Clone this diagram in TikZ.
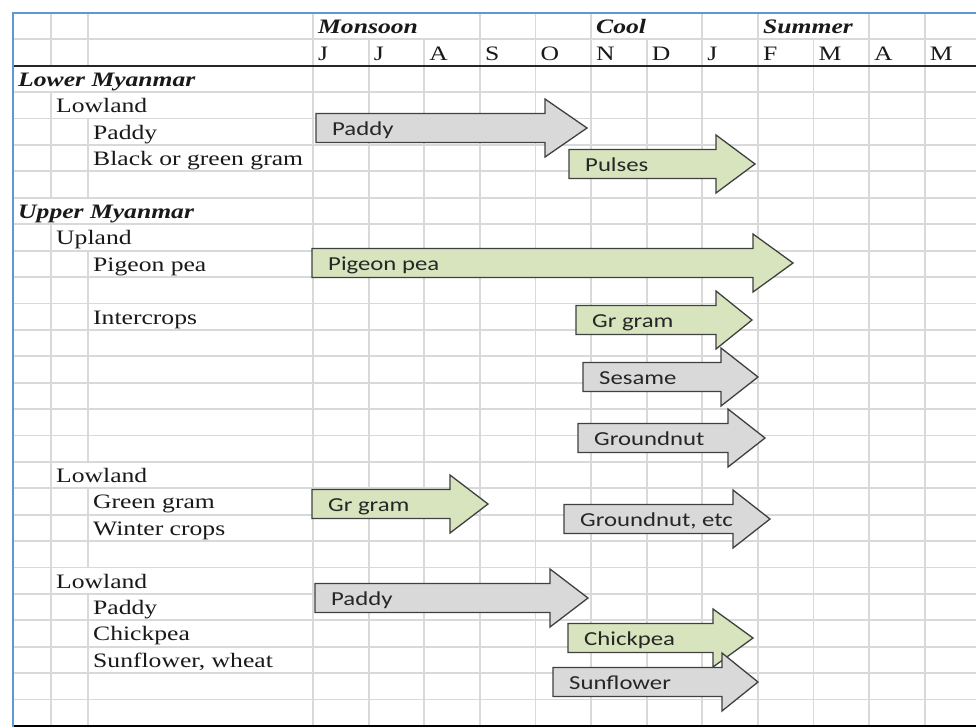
\documentclass[tikz,border=0pt]{standalone}
\usepackage{fontspec}
\setmainfont{Liberation Serif}[FakeStretch=1.25]
\newfontfamily\arrowfont{Carlito}[FakeStretch=1.25]
\usepackage{xcolor}
\usepackage{tikz}
\definecolor{gridgray}{HTML}{D9D9D9}
\definecolor{frameblue}{HTML}{5B9BD5}
\definecolor{cropgray}{HTML}{D9D9D9}
\definecolor{cropgreen}{HTML}{D7E4BD}
\definecolor{edge}{HTML}{404040}

\tikzset{
  gridline/.style={draw=gridgray, line width=1.8pt},
  rowlabel/.style={anchor=base west, inner sep=0pt, text=black!90, font=\fontsize{20.5}{24}\selectfont},
  season/.style={rowlabel, font=\fontsize{20.5}{24}\selectfont\bfseries\itshape},
  croplabel/.style={anchor=base west, inner sep=0pt, text=black!85, font=\arrowfont\fontsize{19.8}{22}\selectfont},
  arrowline/.style={draw=edge, line width=1.3pt, line join=miter},
}

\newcommand{\croparrow}[7]{%
  \draw[arrowline, fill=#2] (#3,#6-14.5) -- (#4,#6-14.5) -- (#4,#6-29) -- (#5,#6)
    -- (#4,#6+29) -- (#4,#6+14.5) -- (#3,#6+14.5) -- cycle;
  \node[croplabel] (#1) at (#3+16,#6+7.5) {#7};
}

\begin{document}
\begin{tikzpicture}[x=1pt, y=-1pt]
  \useasboundingbox (0,0) rectangle (976,727);
  \fill[white] (0,0) rectangle (976,727);

  \foreach \r in {1,...,26}
    \draw[gridline] (13,13+26.4*\r) -- (976,13+26.4*\r);
  \foreach \x/\a/\b in {51/0/2, 51/3/7, 51/8/27, 88/0/2, 88/4/7, 88/9/17, 88/18/21, 88/22/27}
    \draw[gridline] (\x,13+26.4*\a) -- (\x,13+26.4*\b);
  \foreach \j/\a in {0/0, 1/1, 2/1, 3/0, 4/0, 5/0, 6/1, 7/0, 8/0, 9/1, 10/0, 11/0}
    \draw[gridline] (313+55.6*\j,13+26.4*\a) -- (313+55.6*\j,725.8);

  \draw[black!85, line width=1.5pt] (13,65.8) -- (976,65.8);
  \draw[black, line width=2pt] (13,725.8) -- (976,725.8);
  \draw[frameblue, line width=2.6pt] (13,727) -- (13,13) -- (976,13);

  \node[season] (monsoon) at (318,33.7) {Monsoon};
  \node[season] (cool) at (596,33.7) {Cool};
  \node[season] (summer) at (763,33.7) {Summer};
  \foreach \m [count=\j from 0] in {J,J,A,S,O,N,D,J,F,M,A,M}
    \node[rowlabel] (month\j) at (318+55.6*\j,60.1) {\m};

  \node[season] (lower) at (18,33.7+26.4*2) {Lower Myanmar};
  \node[season] (upper) at (18,33.7+26.4*7) {Upper Myanmar};
  \foreach \n/\x/\r/\t in {lowlandA/56/3/Lowland, paddyrow/93/4/Paddy, gramrow/93/5/Black or green gram,
      upland/56/8/Upland, pigeonrow/93/9/Pigeon pea, intercrops/93/11/Intercrops,
      lowlandB/56/17/Lowland, greenrow/93/18/Green gram, winterrow/93/19/Winter crops,
      lowlandC/56/21/Lowland, paddyrowB/93/22/Paddy, chickrow/93/23/Chickpea,
      sunrow/93/24/{Sunflower, wheat}}
    \node[rowlabel] (\n) at (\x,33.7+26.4*\r) {\t};

  \croparrow{paddyA}{cropgray}{316}{545}{587}{128}{Paddy}
  \croparrow{pulses}{cropgreen}{569}{716}{755}{164}{Pulses}
  \croparrow{pigeon}{cropgreen}{312}{753}{793}{263}{Pigeon pea}
  \croparrow{grgramA}{cropgreen}{576}{716}{752}{320}{Gr gram}
  \croparrow{sesame}{cropgray}{583}{721}{758}{377}{Sesame}
  \croparrow{groundnut}{cropgray}{578}{728}{765}{438}{Groundnut}
  \croparrow{grgramB}{cropgreen}{312}{450}{488}{504}{Gr gram}
  \croparrow{groundetc}{cropgray}{564}{733}{770}{519}{Groundnut, etc}
  \croparrow{paddyB}{cropgray}{315}{550}{588}{598}{Paddy}
  \croparrow{chickpea}{cropgreen}{568}{713}{753}{638}{Chickpea}
  \croparrow{sunflower}{cropgray}{553}{722}{758}{682}{Sunflower}
\end{tikzpicture}
\end{document}
